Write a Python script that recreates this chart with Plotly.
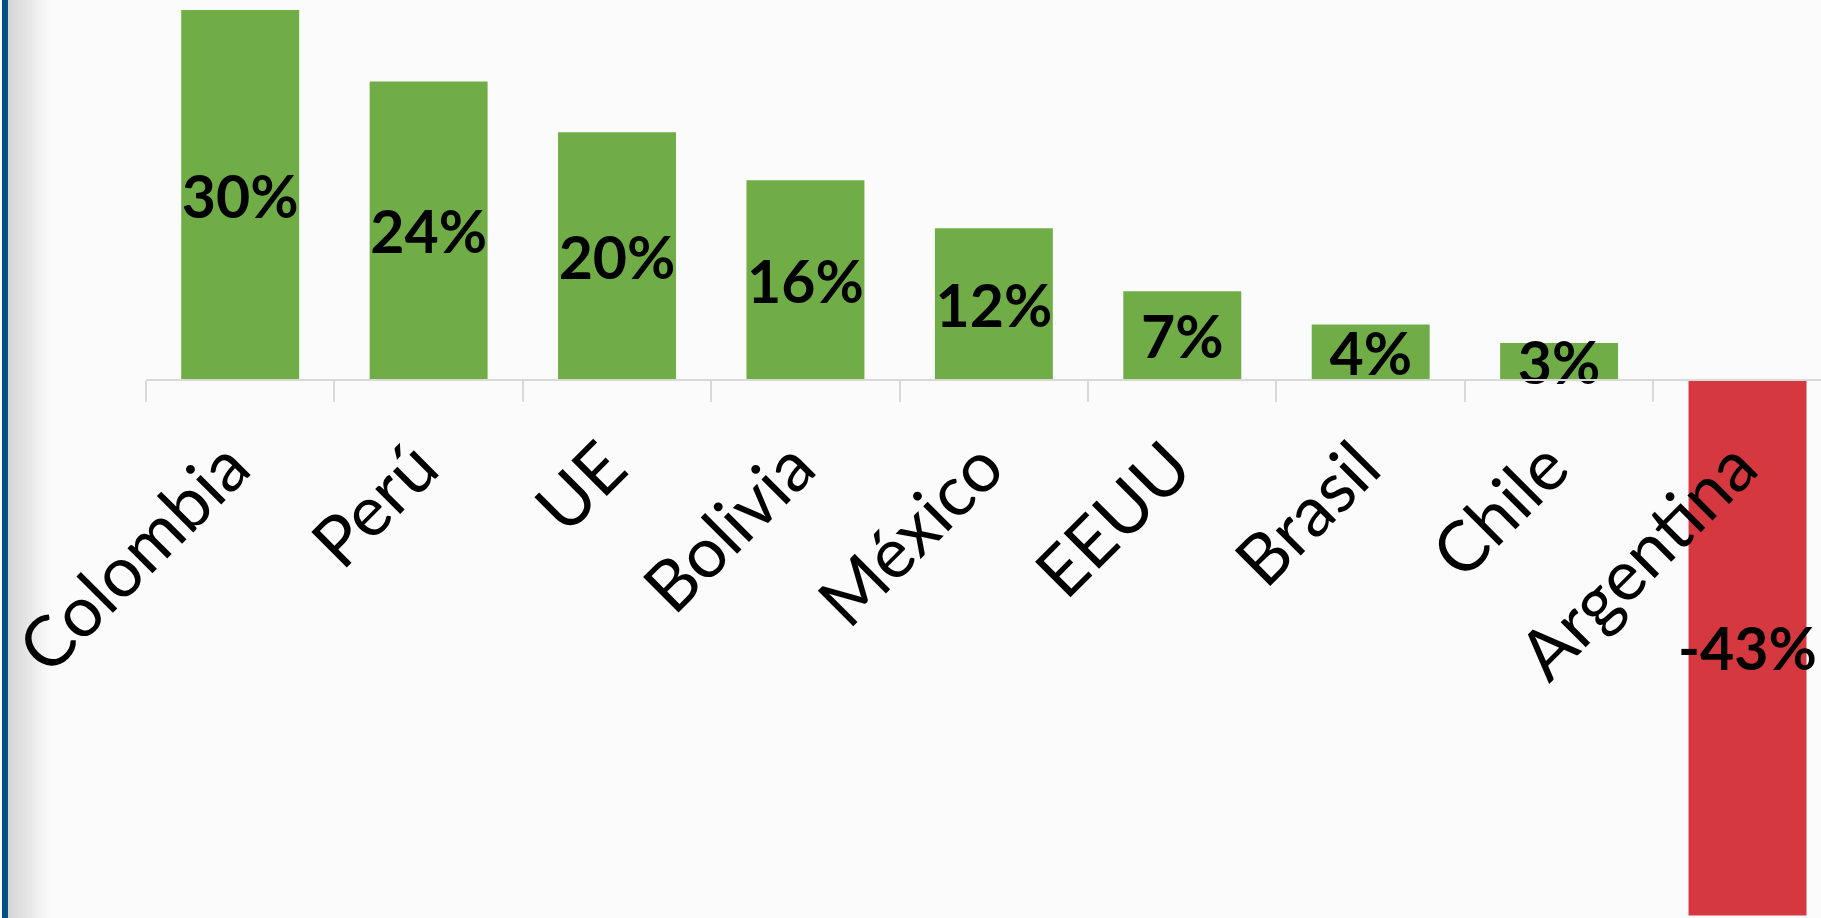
import plotly.graph_objects as go

# ---- data ----
countries = ["Colombia", "Perú", "UE", "Bolivia", "México", "EEUU", "Brasil", "Chile", "Argentina"]
values = [30.0, 24.2, 20.1, 16.2, 12.3, 7.2, 4.5, 3.0, -43.4]
labels = ["30%", "24%", "20%", "16%", "12%", "7%", "4%", "3%", "-43%"]

# ---- style ----
GREEN = "#70AD47"
RED = "#D5393F"
AXIS_GRAY = "#D9D9D9"
BG = "#FBFBFB"
BLUE = "#01527F"

colors = [GREEN if v >= 0 else RED for v in values]

y_min, y_max = -43.6, 30.0
x_range = [-0.5, 8.39]

fig = go.Figure()
fig.add_trace(go.Bar(
    x=countries,
    y=values,
    text=labels,
    marker=dict(color=colors, line=dict(width=0)),
    texttemplate="%{text}",
    textposition="inside",
    insidetextanchor="middle",
    textangle=0,
    constraintext="none",
    cliponaxis=False,
    textfont=dict(family="Lato", size=59, color="black", weight="bold"),
    hoverinfo="skip",
))

shapes = [
    dict(type="rect", xref="paper", yref="paper", xsizemode="pixel", xanchor=0,
         x0=-144, x1=-138, y0=-0.1, y1=1.1, fillcolor=BLUE, line=dict(width=0), layer="above"),
]
# soft gray gradient next to the blue strip
n = 14
for i in range(n):
    g = int(0xD4 + (0xFB - 0xD4) * (i + 0.5) / n)
    shapes.append(dict(type="rect", xref="paper", yref="paper", xsizemode="pixel", xanchor=0,
                       x0=-138 + i * 3, x1=-138 + (i + 1) * 3, y0=-0.1, y1=1.1,
                       fillcolor=f"rgb({g},{g},{g})", line=dict(width=0), layer="below"))

fig.update_layout(
    width=1821, height=918,
    margin=dict(l=144, r=0, t=10, b=0, pad=0),
    paper_bgcolor=BG, plot_bgcolor=BG,
    bargap=0.374,
    showlegend=False,
    shapes=shapes,
    xaxis=dict(
        type="category",
        range=x_range,
        tickson="boundaries",
        ticks="outside", ticklen=21, tickwidth=2, tickcolor=AXIS_GRAY,
        showline=True, linecolor=AXIS_GRAY, linewidth=2,
        showgrid=False, zeroline=False,
        anchor="free",
        position=(0 - y_min) / (y_max - y_min),
        tickangle=-45,
        tickfont=dict(family="Lato", size=70, color="black"),
        ticklabelstandoff=17,
        ticklabelshift=-11,
        layer="above traces",
    ),
    yaxis=dict(range=[y_min, y_max], visible=False, showgrid=False, zeroline=False),
)

fig.write_html("out.html", config={"displayModeBar": False},
               post_script="document.body.style.margin='0';document.body.style.overflow='hidden';")
